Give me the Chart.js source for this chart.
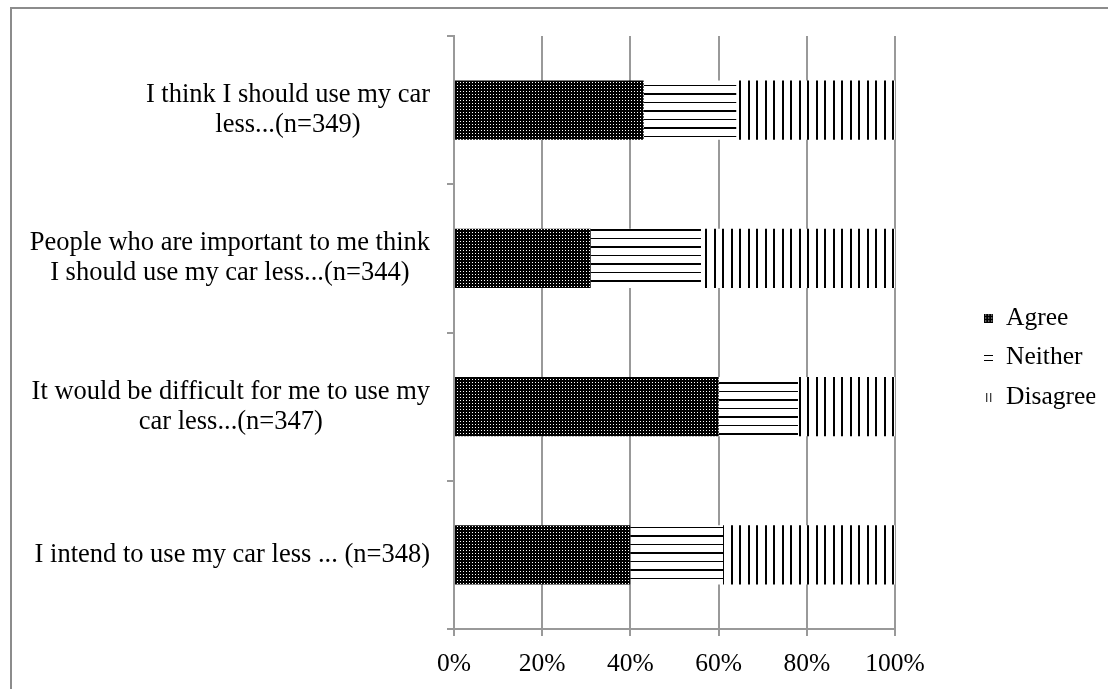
<!DOCTYPE html>
<html>
<head>
<meta charset="utf-8">
<script src="https://cdn.jsdelivr.net/npm/chart.js@4.4.1/dist/chart.umd.min.js"></script>
<style>
html, body { margin: 0; padding: 0; background: #fff; overflow: hidden; }
#frame { position: absolute; left: 10px; top: 7px; width: 1200px; height: 800px; border: 2px solid #8c8c8c; }
#chart { position: absolute; left: 0; top: 0; }
</style>
</head>
<body>
<div id="frame"></div>
<canvas id="chart" width="1108" height="689"></canvas>
<script>
"use strict";

// categories, top to bottom, split into the lines shown on the axis
const categories = [
    ['I think I should use my car', 'less...(n=349)'],
    ['People who are important to me think', 'I should use my car less...(n=344)'],
    ['It would be difficult for me to use my', 'car less...(n=347)'],
    ['I intend to use my car less ... (n=348)']
];
const seriesNames = ['Agree', 'Neither', 'Disagree'];
const agree = [43, 31, 60, 40];
const neither = [21, 25, 18, 21];
const disagree = [36, 44, 22, 39];
const xTickLabels = ['0%', '20%', '40%', '60%', '80%', '100%'];

const FONT = "'Liberation Serif', 'Times New Roman', serif";
const GRID = '#999999';
const LEGEND_PAD = 14;

const canvas = document.getElementById('chart');
const ctx = canvas.getContext('2d');

// small tile canvases for the black and white fills
const tile = (w, h, draw) => {
    const c = document.createElement('canvas');
    c.width = w;
    c.height = h;
    const g = c.getContext('2d');
    draw(g);
    return c;
};

const dotsTile = tile(3, 3, g => {
    g.fillStyle = '#000';
    g.fillRect(0, 0, 3, 3);
    g.fillStyle = '#fff';
    g.fillRect(1, 1, 1, 1);
});
const hLinesTile = tile(1, 17, g => {
    g.fillStyle = '#fff';
    g.fillRect(0, 0, 1, 17);
    g.fillStyle = '#000';
    g.fillRect(0, 0, 1, 1);
    g.fillRect(0, 8, 1, 2);
});
const vLinesTile = tile(17, 1, g => {
    g.fillStyle = '#fff';
    g.fillRect(0, 0, 17, 1);
    g.fillStyle = '#000';
    g.fillRect(0, 0, 2, 1);
    g.fillRect(8, 0, 2, 1);
});

const fills = [
    ctx.createPattern(dotsTile, 'repeat'),
    ctx.createPattern(hLinesTile, 'repeat'),
    ctx.createPattern(vLinesTile, 'repeat')
];

// legend icons
const icons = [
    tile(9, 9, g => {
        g.fillStyle = '#000';
        g.fillRect(0, 0, 9, 9);
        g.fillStyle = '#fff';
        for (let x = 1; x < 9; x += 3) {
            for (let y = 1; y < 9; y += 3) {
                g.fillRect(x, y, 1, 1);
            }
        }
    }),
    tile(9, 9, g => {
        g.fillStyle = '#000';
        g.fillRect(0, 2, 9, 1);
        g.fillRect(0, 7, 9, 1);
    }),
    tile(9, 9, g => {
        g.fillStyle = '#000';
        g.fillRect(2, 0, 1, 9);
        g.fillRect(6, 0, 1, 9);
    })
];

// draws the category labels: block right aligned, lines centred in the block
const categoryLabels = {
    id: 'categoryLabels',
    afterDraw(chart) {
        const c = chart.ctx;
        const yScale = chart.scales.y;
        const right = yScale.right - 24;
        c.save();
        c.font = '26.5px ' + FONT;
        c.fillStyle = '#000';
        c.textAlign = 'center';
        c.textBaseline = 'middle';
        categories.forEach((lines, i) => {
            const cy = yScale.getPixelForValue(i);
            const w = Math.max(...lines.map(l => c.measureText(l).width));
            lines.forEach((l, k) => {
                c.fillText(l, right - w / 2, cy + (k - (lines.length - 1) / 2) * 30);
            });
        });
        c.restore();
    }
};

const values = [agree, neither, disagree];

new Chart(canvas, {
    type: 'bar',
    data: {
        labels: categories.map(l => l.join(' ')),
        datasets: seriesNames.map((name, i) => ({
            label: name,
            data: values[i],
            backgroundColor: fills[i],
            borderWidth: 0,
            categoryPercentage: 1,
            barPercentage: 0.4
        }))
    },
    options: {
        indexAxis: 'y',
        responsive: false,
        animation: false,
        events: [],
        layout: {
            padding: {left: 0, top: 26, right: 12.75, bottom: 0}
        },
        scales: {
            x: {
                type: 'linear',
                stacked: true,
                min: 0,
                max: 100,
                ticks: {
                    stepSize: 20,
                    padding: 13,
                    color: '#000',
                    font: {family: FONT, size: 25.5},
                    callback: (v, i) => xTickLabels[i]
                },
                grid: {color: GRID, lineWidth: 2, tickLength: 7},
                border: {color: GRID, width: 2},
                afterFit: s => { s.height = 60; }
            },
            y: {
                type: 'category',
                stacked: true,
                offset: true,
                ticks: {display: false},
                grid: {color: GRID, lineWidth: 2, tickLength: 7, offset: true, drawOnChartArea: false},
                border: {color: GRID, width: 2},
                afterFit: s => { s.width = 454; }
            },
            // empty space between the plot and the legend, and above the plot
            spacer: {
                axis: 'y',
                type: 'linear',
                position: 'right',
                display: true,
                ticks: {display: false},
                grid: {display: false, drawTicks: false},
                border: {display: false},
                afterFit: s => { s.width = 89.25 - LEGEND_PAD; }
            },
            spacerTop: {
                axis: 'x',
                type: 'linear',
                position: 'top',
                display: true,
                ticks: {display: false},
                grid: {display: false, drawTicks: false},
                border: {display: false},
                afterFit: s => { s.height = 10; }
            }
        },
        plugins: {
            tooltip: {enabled: false},
            legend: {
                position: 'right',
                align: 'center',
                maxWidth: 125,
                labels: {
                    usePointStyle: true,
                    pointStyleWidth: 9,
                    boxHeight: 9,
                    padding: LEGEND_PAD,
                    color: '#000',
                    font: {family: FONT, size: 25.5},
                    generateLabels: chart => chart.data.datasets.map((ds, i) => ({
                        text: ds.label,
                        pointStyle: icons[i],
                        fillStyle: '#000',
                        strokeStyle: 'rgba(0,0,0,0)',
                        lineWidth: 0,
                        fontColor: '#000',
                        datasetIndex: i,
                        hidden: false
                    }))
                }
            }
        }
    },
    plugins: [categoryLabels]
});
</script>
</body>
</html>
